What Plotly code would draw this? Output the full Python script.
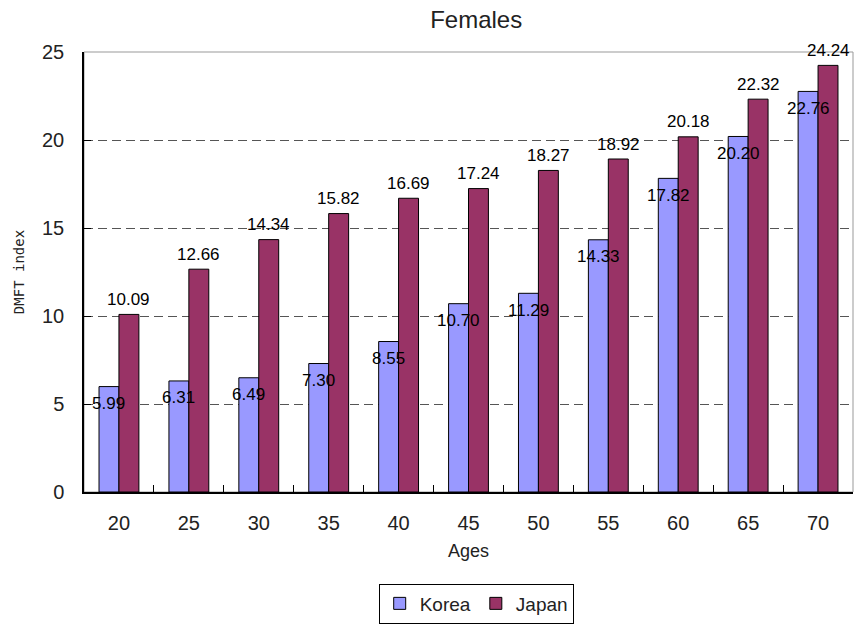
import plotly.graph_objects as go

# DMFT index by age group, females
ages = ["20", "25", "30", "35", "40", "45", "50", "55", "60", "65", "70"]
korea = [5.99, 6.31, 6.49, 7.30, 8.55, 10.70, 11.29, 14.33, 17.82, 20.20, 22.76]
japan = [10.09, 12.66, 14.34, 15.82, 16.69, 17.24, 18.27, 18.92, 20.18, 22.32, 24.24]
y_ticks = [0, 5, 10, 15, 20, 25]

KOREA_COLOR = "#9999FF"
JAPAN_COLOR = "#993366"
FONT = "Liberation Sans, Arial, sans-serif"

fig = go.Figure()
fig.add_trace(go.Bar(name="Korea", x=ages, y=korea, marker=dict(color=KOREA_COLOR, line=dict(color="black", width=1))))
fig.add_trace(go.Bar(name="Japan", x=ages, y=japan, marker=dict(color=JAPAN_COLOR, line=dict(color="black", width=1))))

# value labels: Korea just under the bar top, Japan just above it
# (category axis: annotation x is the category index)
annotations = []
for i, v in enumerate(korea):
    annotations.append(dict(x=i, y=v, xref="x", yref="y", text=f"{v:.2f}", showarrow=False,
                            xshift=-10, yshift=-17, yanchor="middle",
                            font=dict(family=FONT, size=17, color="black")))
for i, v in enumerate(japan):
    annotations.append(dict(x=i, y=v, xref="x", yref="y", text=f"{v:.2f}", showarrow=False,
                            xshift=10, yshift=15, yanchor="middle",
                            font=dict(family=FONT, size=17, color="black")))

fig.update_layout(
    width=859, height=626,
    margin=dict(l=84, r=6, t=52, b=134, autoexpand=False),
    paper_bgcolor="white", plot_bgcolor="white",
    barmode="group", bargap=0.43, bargroupgap=0,
    title=dict(text="Females", x=0.51, xref="paper", y=0.968, yanchor="middle",
               font=dict(family=FONT, size=24, color="#222")),
    font=dict(family=FONT, color="#222"),
    showlegend=True,
    legend=dict(orientation="h", x=0.51, xanchor="center", y=-0.208, yanchor="top",
                bordercolor="black", borderwidth=1, bgcolor="white",
                font=dict(family=FONT, size=19, color="#222"),
                traceorder="normal", tracegroupgap=0, itemwidth=30),
    annotations=annotations,
    shapes=[dict(type="rect", xref="paper", yref="paper", x0=0, x1=1, y0=0, y1=1,
                 line=dict(color="#999999", width=1), layer="below")],
)

fig.update_xaxes(
    type="category", range=[-0.5, len(ages) - 0.5], showline=True, linecolor="black", linewidth=1.5,
    ticks="inside", ticklen=7, tickcolor="black", tickson="boundaries", tickangle=0,
    tickfont=dict(family=FONT, size=20, color="#222"), ticklabelstandoff=12,
    title=dict(text="Ages", font=dict(family=FONT, size=18, color="#222"), standoff=12),
    showgrid=False, zeroline=False,
)
fig.update_yaxes(
    range=[0, 25], tickvals=y_ticks, showline=True, linecolor="black", linewidth=1.5,
    ticks="inside", ticklen=7, tickcolor="black",
    tickfont=dict(family=FONT, size=20, color="#222"), ticklabelstandoff=14,
    title=dict(text="DMFT index", font=dict(family="DejaVu Sans Mono, monospace", size=14, color="#222"), standoff=14),
    showgrid=True, gridcolor="#555555", griddash="9px,5px", gridwidth=1, zeroline=False,
)

fig.write_html("out.html")
